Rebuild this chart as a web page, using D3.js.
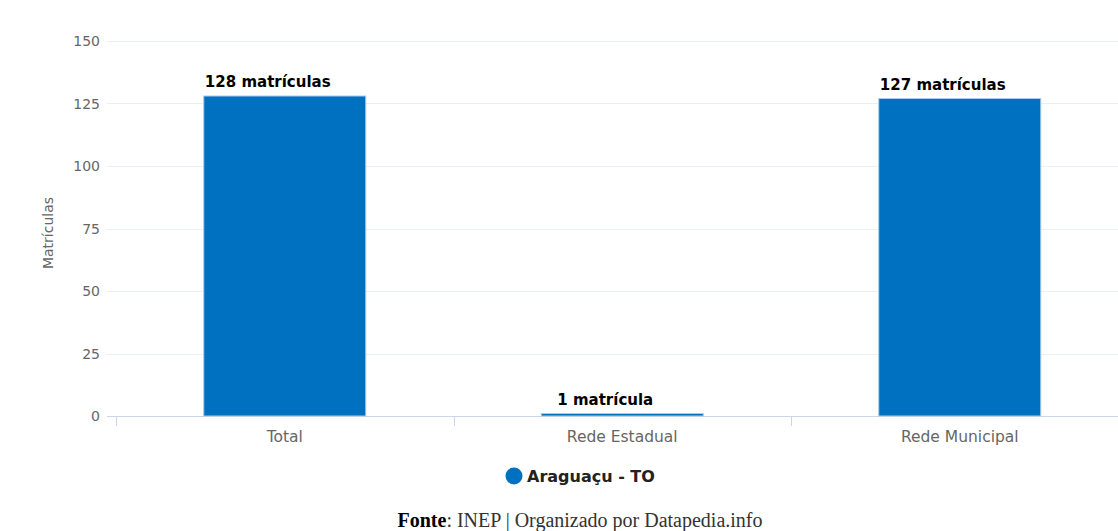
<!DOCTYPE html>
<html><head><meta charset="utf-8">
<script src="https://cdn.jsdelivr.net/npm/d3@7"></script>
<style>
body{margin:0;background:#fff;}
svg{display:block;}
</style></head>
<body><svg id="c" width="1118" height="531"></svg>
<script>
const categories = ["Total", "Rede Estadual", "Rede Municipal"];
const values = [128, 1, 127];
const labels = ["128 matrículas", "1 matrícula", "127 matrículas"];
const yTicks = [0, 25, 50, 75, 100, 125, 150];
const seriesName = "Araguaçu - TO";
const yTitle = "Matrículas";

const svg = d3.select("#c");
const W = 1118, H = 531;
const m = {left:116, right:-10.5, top:41, bottom:115};
const x = d3.scaleBand().domain(categories).range([m.left, W - m.right]).paddingInner(0).paddingOuter(0);
const y = d3.scaleLinear().domain([0,150]).range([416, 41]);
const font = "'DejaVu Sans', Verdana, sans-serif";

// grid
svg.append("g").selectAll("line").data(yTicks).join("line")
  .attr("x1", 107).attr("x2", W)
  .attr("y1", d => Math.round(y(d)) + 0.5).attr("y2", d => Math.round(y(d)) + 0.5)
  .attr("stroke", d => d === 0 ? "#ccd6eb" : "#eaeef5").attr("stroke-width", 1);

// y labels
const yAxis = d3.axisLeft(y).tickValues(yTicks).tickSize(0).tickPadding(0);
const gy = svg.append("g").attr("transform", "translate(100,0)").call(yAxis);
gy.select(".domain").remove();
gy.selectAll("text").attr("font-family", font).attr("font-size", 14).attr("fill", "#666").attr("dy", "0.35em");

// x axis ticks
const xTickPos = categories.map(c => x(c));
svg.append("g").selectAll("line").data(xTickPos).join("line")
  .attr("x1", d => Math.round(d) + 0.5).attr("x2", d => Math.round(d) + 0.5)
  .attr("y1", 417).attr("y2", 426).attr("stroke", "#ccd6eb");
const xAxis = d3.axisBottom(x).tickSize(0).tickPadding(0);
const gx = svg.append("g").attr("transform", "translate(0,437)").call(xAxis);
gx.select(".domain").remove();
gx.selectAll("text").attr("font-family", font).attr("font-size", 15.5).attr("fill", "#666").attr("dy", "0.35em");

// y title
svg.append("text").attr("transform", "translate(53,233) rotate(-90)")
  .attr("text-anchor", "middle").attr("font-family", font).attr("font-size", 14).attr("fill", "#666").text(yTitle);

// bars
const bw = x.bandwidth() * 0.48;
svg.append("g").selectAll("rect").data(values).join("rect")
  .attr("x", (d,i) => x(categories[i]) + (x.bandwidth() - bw)/2)
  .attr("y", d => y(d))
  .attr("width", bw)
  .attr("height", d => y(0) - y(d))
  .attr("fill", "#0070c0")
  .attr("stroke", "#a9cde8").attr("stroke-width", 1);

// data labels
svg.append("g").selectAll("text").data(values).join("text")
  .attr("x", (d,i) => x(categories[i]) + x.bandwidth()/2)
  .attr("dx", -17)
  .attr("y", d => y(d) - 9)
  .attr("text-anchor", "middle").attr("font-family", font).attr("font-weight", "bold")
  .attr("font-size", 15).attr("fill", "#000").text((d,i) => labels[i]);

// legend
svg.append("circle").attr("cx", 514).attr("cy", 476).attr("r", 8.5).attr("fill", "#0070c0");
svg.append("text").attr("x", 527).attr("y", 482).attr("font-family", font).attr("font-weight", "bold")
  .attr("font-size", 16).attr("fill", "#222").text(seriesName);

// source
const src = svg.append("text").attr("x", 580).attr("y", 527).attr("text-anchor", "middle")
  .attr("font-family", "'Liberation Serif', 'DejaVu Serif', serif").attr("font-size", 20).attr("fill", "#333");
src.append("tspan").attr("font-weight", "bold").attr("fill", "#000").text("Fonte");
src.append("tspan").text(": INEP | Organizado por Datapedia.info");
</script></body></html>
